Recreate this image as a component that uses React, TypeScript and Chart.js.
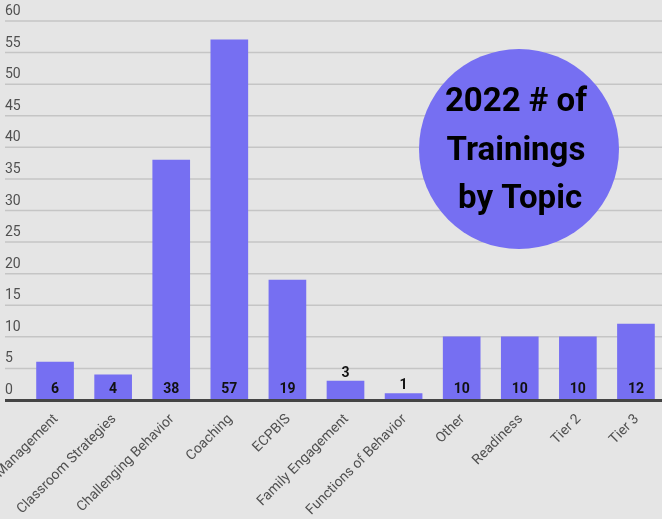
import React, { useEffect, useRef } from "react";
import { Chart, registerables } from "chart.js";

Chart.register(...registerables);

const categories = [
  "Classroom Management",
  "Classroom Strategies",
  "Challenging Behavior",
  "Coaching",
  "ECPBIS",
  "Family Engagement",
  "Functions of Behavior",
  "Other",
  "Readiness",
  "Tier 2",
  "Tier 3",
];
const trainings = [6, 4, 38, 57, 19, 3, 1, 10, 10, 10, 12];
const yTicks = [0, 5, 10, 15, 20, 25, 30, 35, 40, 45, 50, 55, 60];
const titleLines = ["2022 # of", "Trainings", " by Topic"];

const BAR = "#766ff2";
const BG = "#e5e5e5";
const FONT = "Roboto, 'Noto Sans', sans-serif";

const decor = {
  id: "decor",
  beforeDatasetsDraw(chart: any) {
    const { ctx } = chart;
    const y = chart.scales.y;
    const w = chart.width;
    ctx.save();
    ctx.strokeStyle = "#c5c5c5";
    ctx.lineWidth = 1.5;
    yTicks.forEach((v) => {
      if (v === 0) return;
      const py = y.getPixelForValue(v);
      ctx.beginPath();
      ctx.moveTo(5, py);
      ctx.lineTo(w, py);
      ctx.stroke();
    });
    ctx.fillStyle = "#505050";
    ctx.font = `14px ${FONT}`;
    ctx.textAlign = "left";
    ctx.textBaseline = "middle";
    yTicks.forEach((v) => {
      const py = y.getPixelForValue(v);
      ctx.fillText(String(v), 5, py - 9.5);
    });
    ctx.restore();
  },
  afterDatasetsDraw(chart: any) {
    const { ctx } = chart;
    const x = chart.scales.x;
    const y = chart.scales.y;
    const w = chart.width;
    const y0 = y.getPixelForValue(0);
    ctx.save();
    ctx.fillStyle = "#444444";
    ctx.fillRect(5, y0 - 1, w, 3);

    // value labels
    ctx.font = `bold 14px ${FONT}`;
    ctx.fillStyle = "#111111";
    ctx.textAlign = "center";
    trainings.forEach((v, i) => {
      const px = x.getPixelForValue(i);
      const top = y.getPixelForValue(v);
      if (y0 - top > 20) {
        ctx.textBaseline = "middle";
        ctx.fillText(String(v), px, y0 - 10.5);
      } else {
        ctx.textBaseline = "alphabetic";
        ctx.fillText(String(v), px, top - 4.5);
      }
    });

    // category labels
    ctx.font = `14px ${FONT}`;
    ctx.fillStyle = "#505050";
    ctx.textAlign = "right";
    ctx.textBaseline = "middle";
    categories.forEach((c, i) => {
      const px = x.getPixelForValue(i);
      ctx.save();
      ctx.translate(px + 1, y0 + 17);
      ctx.rotate(-Math.PI / 4);
      ctx.fillText(c, 0, 0);
      ctx.restore();
    });

    // title badge
    const cx = 519;
    const cy = 149;
    ctx.beginPath();
    ctx.arc(cx, cy, 100, 0, Math.PI * 2);
    ctx.fillStyle = BAR;
    ctx.fill();
    ctx.fillStyle = "#000000";
    ctx.font = `bold 33px ${FONT}`;
    ctx.textAlign = "center";
    ctx.textBaseline = "middle";
    titleLines.forEach((t, i) => {
      ctx.fillText(t, cx - 3, cy - 46 + i * 48.5);
    });
    ctx.restore();
  },
};

export default function App() {
  const ref = useRef<HTMLCanvasElement>(null);
  useEffect(() => {
    if (!ref.current) return;
    const chart = new Chart(ref.current, {
      type: "bar",
      data: {
        labels: categories,
        datasets: [
          {
            data: trainings,
            backgroundColor: BAR,
            barThickness: 37,
            borderWidth: 0,
          },
        ],
      },
      options: {
        responsive: false,
        animation: false,
        devicePixelRatio: 1,
        layout: { padding: { left: 26, right: 5, top: 21, bottom: 119 } },
        plugins: { legend: { display: false }, tooltip: { enabled: false }, title: { display: false } },
        scales: {
          x: { display: false, offset: true },
          y: { display: false, min: 0, max: 60 },
        },
      },
      plugins: [decor],
    });
    return () => chart.destroy();
  }, []);
  return (
    <div
      style={{
        position: "fixed",
        left: 0,
        top: 0,
        width: 662,
        height: 519,
        overflow: "hidden",
        background: BG,
      }}
    >
      <canvas ref={ref} width={670} height={519} style={{ display: "block" }} />
    </div>
  );
}
